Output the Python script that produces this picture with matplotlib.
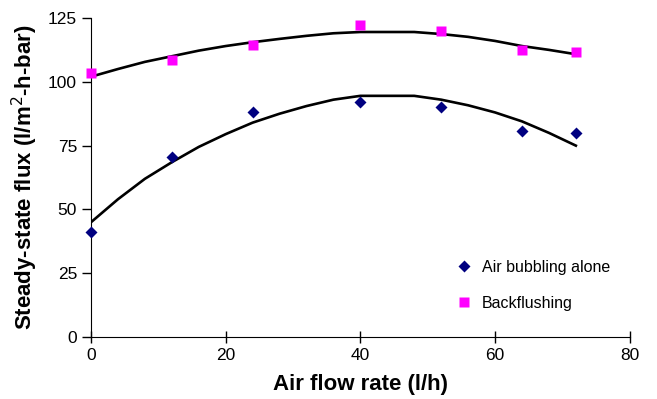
import matplotlib
matplotlib.use("Agg")
import matplotlib.pyplot as plt

plt.rcParams['font.family'] = ['Liberation Sans', 'DejaVu Sans']

# measured points
x_pts = [0, 12, 24, 40, 52, 64, 72]
air_alone = [41, 70.5, 88, 92, 90, 80.7, 80]
backflush = [103.5, 108.5, 114.5, 122.3, 120, 112.5, 111.5]

# trend curves
x_fit = [0, 4, 8, 12, 16, 20, 24, 28, 32, 36, 40, 48, 52, 56, 60, 64, 68, 72]
air_fit = [45, 54, 62, 68.5, 74.5, 79.5, 84, 87.5, 90.5, 93, 94.5, 94.5, 93, 90.8, 88, 84.5, 80, 75]
back_fit = [102, 105, 107.8, 110, 112.2, 114, 115.5, 116.8, 118, 119, 119.5, 119.5, 118.7, 117.6, 116, 114, 112.5, 110.8]

fig = plt.figure(figsize=(6.57, 3.99), dpi=100)
ax = fig.add_axes([0.1385, 0.155, 0.82, 0.8])

ax.plot(x_fit, back_fit, color='black', lw=1.9, zorder=2)
ax.plot(x_fit, air_fit, color='black', lw=1.9, zorder=2)
ax.plot(x_pts, air_alone, 'D', color='#000080', ms=6, mec='none', label='Air bubbling alone', zorder=3, clip_on=False)
ax.plot(x_pts, backflush, 's', color='#FF00FF', ms=6.5, mec='none', label='Backflushing', zorder=3, clip_on=False)

ax.set_xlim(0, 80)
ax.set_ylim(0, 125)
ax.set_xticks([0, 20, 40, 60, 80])
ax.set_yticks([0, 25, 50, 75, 100, 125])
for s in ['top', 'right']:
    ax.spines[s].set_visible(False)
ax.tick_params(labelsize=12.5, length=6.5, width=1, colors='black')
ax.tick_params(axis='x', direction='inout', length=9)

ax.set_xlabel('Air flow rate (l/h)', fontsize=16, fontweight='bold', labelpad=8)
ax.set_ylabel('Steady-state flux (l/m$^2$-h-bar)', fontsize=16, fontweight='bold', labelpad=6)

ax.legend(loc='lower right', bbox_to_anchor=(0.99, 0.038), frameon=False, fontsize=11.5,
          handletextpad=0.35, labelspacing=1.3, handlelength=1.5)

fig.savefig('out.png', dpi=100)
